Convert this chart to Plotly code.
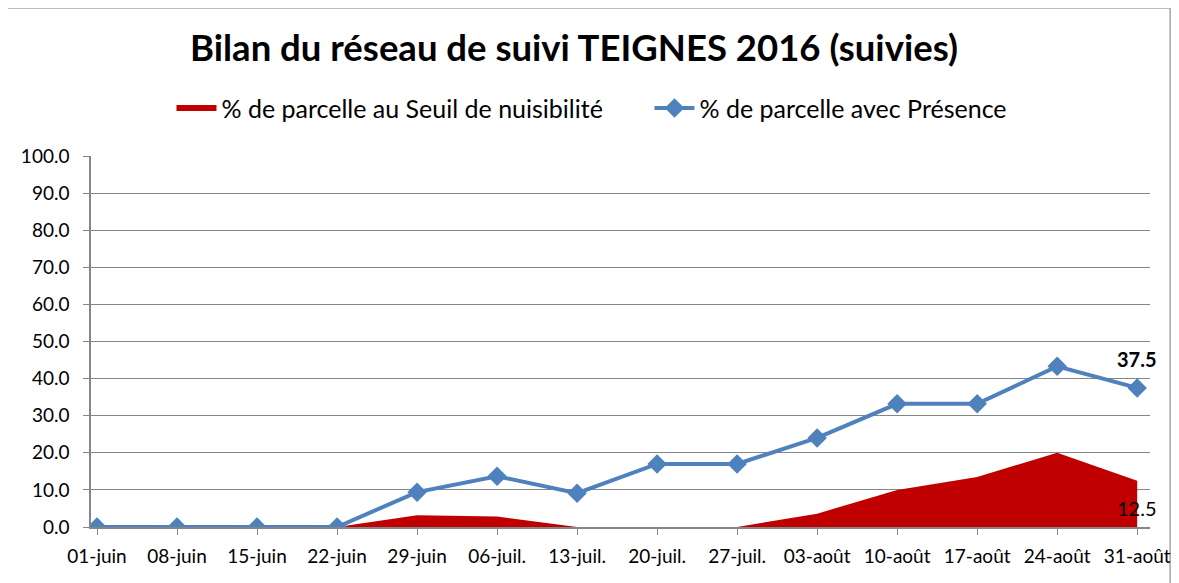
import plotly.graph_objects as go

categories = ["01-juin", "08-juin", "15-juin", "22-juin", "29-juin", "06-juil.", "13-juil.",
              "20-juil.", "27-juil.", "03-août", "10-août", "17-août", "24-août", "31-août"]
seuil = [0, 0, 0, 0, 3.2, 2.8, 0, 0, 0, 3.6, 10.0, 13.5, 20.0, 12.5]
presence = [0, 0, 0, 0, 9.4, 13.7, 9.1, 17.0, 17.0, 24.0, 33.2, 33.2, 43.3, 37.5]
y_ticks = [0, 10, 20, 30, 40, 50, 60, 70, 80, 90, 100]

FONT = "Lato"
x_idx = list(range(len(categories)))

fig = go.Figure()
fig.add_trace(go.Scatter(
    x=x_idx, y=seuil, name="% de parcelle au Seuil de nuisibilité",
    mode="none", fill="tozeroy", fillcolor="#C00000",
))
fig.add_trace(go.Scatter(
    x=x_idx, y=presence, name="% de parcelle avec Présence",
    mode="lines+markers", line=dict(color="#4F81BD", width=4),
    marker=dict(symbol="diamond", size=15, color="#4F81BD"),
))

# data labels on last point
fig.add_annotation(x=x_idx[-1], y=presence[-1], text="<b>%.1f</b>" % presence[-1],
                   showarrow=False, yshift=29, font=dict(family=FONT, size=20, color="black"))
fig.add_annotation(x=x_idx[-1], y=seuil[-1], text="%.1f" % seuil[-1],
                   showarrow=False, yshift=-27, font=dict(family=FONT, size=20, color="black"))

# outer chart frame
fig.add_shape(type="rect", xref="paper", yref="paper",
              x0=-0.083, x1=1.019, y0=-0.2, y1=1.399,
              line=dict(color="#A6A6A6", width=1.5), layer="below")

fig.update_layout(
    width=1179, height=583,
    margin=dict(l=83, r=37, t=148, b=64),
    paper_bgcolor="white", plot_bgcolor="white",
    font=dict(family=FONT, color="black"),
    title=dict(text="<b>Bilan du réseau de suivi TEIGNES 2016 (suivies)</b>",
               x=566 / 1179, xanchor="center", y=1 - 40 / 583, yanchor="middle",
               font=dict(family=FONT, size=36.5, color="black")),
    legend=dict(orientation="h", x=0.076, xanchor="left", y=1.129, yanchor="middle",
                font=dict(family=FONT, size=25, color="black"),
                itemwidth=40, entrywidth=423, traceorder="normal"),
    xaxis=dict(tickmode="array", tickvals=x_idx, ticktext=categories,
               range=[-0.075, 13.16], showgrid=False, zeroline=False,
               showline=True, linecolor="#868686", linewidth=1.5,
               ticks="outside", ticklen=6, tickcolor="#868686", ticklabelstandoff=5,
               tickfont=dict(family=FONT, size=19, color="black")),
    yaxis=dict(range=[0, 100], tickvals=y_ticks, tickformat=".1f",
               showgrid=True, gridcolor="#868686", gridwidth=1.2, zeroline=False,
               showline=True, linecolor="#868686", linewidth=1.5,
               ticks="outside", ticklen=6, tickcolor="#868686", ticklabelstandoff=10,
               tickfont=dict(family=FONT, size=19, color="black")),
)

fig.write_html("out.html")
